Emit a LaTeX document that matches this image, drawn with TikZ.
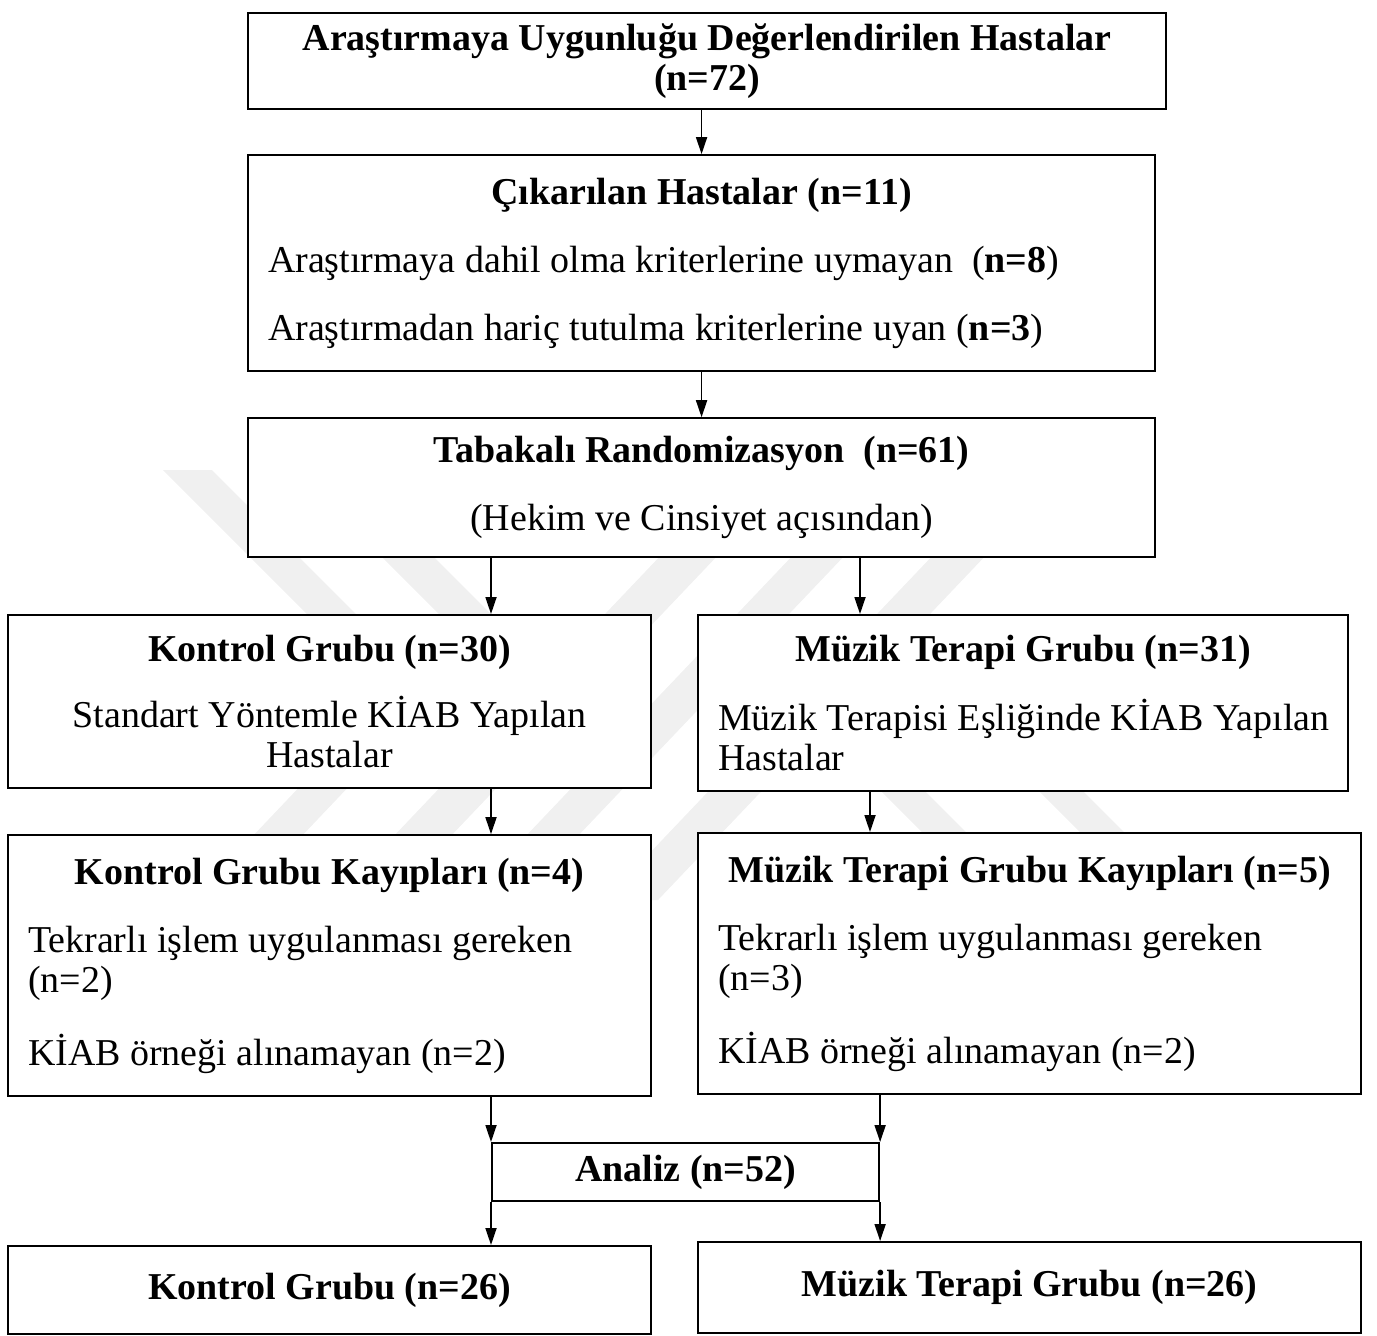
\documentclass[tikz,border=0pt]{standalone}
\usepackage{fontspec}
\setmainfont{Liberation Serif}
\usetikzlibrary{arrows.meta, positioning}

% left aligned line inside a centred box
\newcommand{\solsatir}[2]{\makebox[#1][l]{#2}}

\begin{document}
\begin{tikzpicture}[
    every node/.style={font=\fontsize{10.8}{11.4}\selectfont},
    box/.style={rectangle, draw, fill=white, line width=0.6pt, anchor=north west, align=center, inner xsep=0.2cm, inner ysep=0pt},
    arrow/.style={-{Triangle[length=1.7mm, width=1.1mm]}, line width=0.5pt},
    wmark/.style={fill=black!6, draw=none}
]
\useasboundingbox (0,0) rectangle (13.77,-13.35);

% faint watermark, mostly hidden behind the boxes
\fill[wmark] (1.63,-4.70) -- (2.12,-4.70) -- (3.82,-6.40) -- (3.33,-6.40) -- cycle;
\fill[wmark] (2.95,-4.70) -- (3.47,-4.70) -- (5.17,-6.40) -- (4.65,-6.40) -- cycle;
\fill[wmark] (7.42,-4.70) -- (7.99,-4.70) -- (3.90,-9.00) -- (3.33,-9.00) -- cycle;
\fill[wmark] (8.74,-4.70) -- (9.26,-4.70) -- (5.17,-9.00) -- (4.65,-9.00) -- cycle;
\fill[wmark] (10.14,-4.70) -- (10.67,-4.70) -- (6.58,-9.00) -- (6.05,-9.00) -- cycle;
\fill[wmark] (4.58,-6.20) -- (5.07,-6.20) -- (2.41,-9.00) -- (1.92,-9.00) -- cycle;
\fill[wmark] (7.90,-7.00) -- (8.34,-7.00) -- (11.84,-10.50) -- (11.40,-10.50) -- cycle;
\fill[wmark] (9.48,-7.00) -- (9.92,-7.00) -- (13.42,-10.50) -- (12.98,-10.50) -- cycle;

\node[box, minimum width=9.18cm, minimum height=0.96cm] (uygun) at (2.47,-0.12)
    {\textbf{Araştırmaya Uygunluğu Değerlendirilen Hastalar}\\\textbf{(n=72)}};
\node[box, minimum width=9.07cm, minimum height=2.16cm, below=0.44cm of uygun.south west, anchor=north west] (cikan)
    {\textbf{Çıkarılan Hastalar (n=11)}\\[2.8mm]
     \solsatir{8.67cm}{Araştırmaya dahil olma kriterlerine uymayan~ (\textbf{n=8})}\\[2.8mm]
     \solsatir{8.67cm}{Araştırmadan hariç tutulma kriterlerine uyan (\textbf{n=3})}};
\node[box, minimum width=9.07cm, minimum height=1.39cm, below=0.45cm of cikan.south west, anchor=north west] (tabaka)
    {\textbf{Tabakalı Randomizasyon~~(n=61)}\\[2.8mm](Hekim ve Cinsiyet açısından)};

\node[box, minimum width=6.43cm, minimum height=1.73cm] (kontrol) at (0.07,-6.14)
    {\textbf{Kontrol Grubu (n=30)}\\[2.6mm]Standart Yöntemle KİAB Yapılan\\Hastalar};
\node[box, minimum width=6.50cm, minimum height=1.76cm] (muzik) at (6.97,-6.14)
    {\textbf{Müzik Terapi Grubu (n=31)}\\[2.8mm]
     \solsatir{6.10cm}{Müzik Terapisi Eşliğinde KİAB Yapılan}\\
     \solsatir{6.10cm}{Hastalar}};

\node[box, minimum width=6.43cm, minimum height=2.61cm, below=0.45cm of kontrol.south west, anchor=north west] (kkayip)
    {\textbf{Kontrol Grubu Kayıpları (n=4)}\\[2.8mm]
     \solsatir{6.03cm}{Tekrarlı işlem uygulanması gereken}\\
     \solsatir{6.03cm}{(n=2)}\\[3.3mm]
     \solsatir{6.03cm}{KİAB örneği alınamayan (n=2)}};
\node[box, minimum width=6.63cm, minimum height=2.61cm] (mkayip) at (6.97,-8.32)
    {\textbf{Müzik Terapi Grubu Kayıpları (n=5)}\\[2.8mm]
     \solsatir{6.23cm}{Tekrarlı işlem uygulanması gereken}\\
     \solsatir{6.23cm}{(n=3)}\\[3.3mm]
     \solsatir{6.23cm}{KİAB örneği alınamayan (n=2)}};

\node[box, minimum width=3.87cm, minimum height=0.58cm] (analiz) at (4.91,-11.42) {\textbf{Analiz (n=52)}};

\node[box, minimum width=6.43cm, minimum height=0.88cm] (kson) at (0.07,-12.45) {\textbf{Kontrol Grubu (n=26)}};
\node[box, minimum width=6.63cm, minimum height=0.91cm] (mson) at (6.97,-12.41) {\textbf{Müzik Terapi Grubu (n=26)}};

\coordinate (sagA) at (8.60,-6.14);
\coordinate (sagB) at (8.70,-8.32);

\draw[arrow] (uygun.south -| cikan.north) -- (cikan.north);
\draw[arrow] (cikan.south) -- (tabaka.north);
\draw[arrow] (tabaka.south -| analiz.west) -- (kontrol.north -| analiz.west);
\draw[arrow] (tabaka.south -| sagA) -- (sagA);
\draw[arrow] (kontrol.south -| analiz.west) -- (kkayip.north -| analiz.west);
\draw[arrow] (muzik.south -| sagB) -- (sagB);
\draw[arrow] (kkayip.south -| analiz.west) -- (analiz.north west);
\draw[arrow] (mkayip.south -| analiz.east) -- (analiz.north east);
\draw[arrow] (analiz.south west) -- (kson.north -| analiz.west);
\draw[arrow] (analiz.south east) -- (mson.north -| analiz.east);

\end{tikzpicture}
\end{document}
